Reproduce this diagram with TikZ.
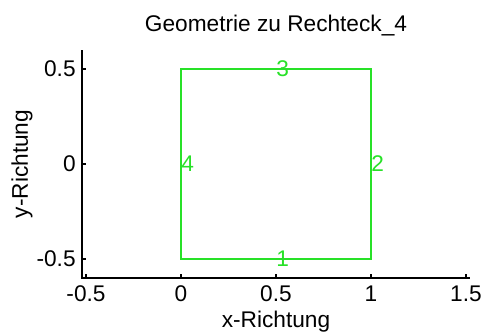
\documentclass[tikz,border=0pt]{standalone}
\usepackage{fontspec}
\setmainfont{Liberation Sans}
\usepackage{tikz}
\usetikzlibrary{positioning,calc}

\definecolor{kantgreen}{RGB}{40,225,40}

\begin{document}
\begin{tikzpicture}[x=142.5pt, y=142.5pt,
    plottext/.style={font=\fontsize{17}{20}\selectfont, inner sep=0pt},
    axisline/.style={draw=black, line width=1.3pt},
    edgelabel/.style={plottext, text=kantgreen, anchor=west}]
    \useasboundingbox (-0.9526,-0.8842) rectangle (1.5895,0.8632);

    % Title
    \node[plottext, anchor=base] (title) at (0.5,0.695) {Geometrie zu Rechteck\_4};

    % Axes
    \coordinate (origin) at (-0.52,-0.6);
    \draw[axisline] (-0.52,0.6) -- (origin) -- (1.52,-0.6);
    \foreach \x in {-0.5,0,0.5,1,1.5} {
        \draw[black, line width=0.9pt] (\x,-0.6) -- (\x,-0.58);
        \node[plottext, anchor=base] (xt\x) at (\x,-0.726) {\x};
    }
    \foreach \y in {-0.5,0,0.5} {
        \draw[black, line width=0.9pt] (-0.52,\y) -- (-0.50,\y);
        \node[plottext, anchor=east] (yt\y) at (-0.553,\y) {\y};
    }
    \node[plottext, anchor=base] (xlab) at (0.5,-0.862) {x-Richtung};
    \node[plottext, rotate=90] (ylab) at (-0.837,0) {y-Richtung};

    % Rectangle
    \coordinate (p1) at (0,-0.5);
    \coordinate (p3) at (1,0.5);
    \draw[kantgreen, line width=1.5pt] (p1) rectangle (p3);

    % Edge numbers
    \node[edgelabel] (seg1) at (0.5,-0.5) {1};
    \node[edgelabel] (seg2) at (1,0) {2};
    \node[edgelabel] (seg3) at (0.5,0.5) {3};
    \node[edgelabel] (seg4) at (0,0) {4};
\end{tikzpicture}
\end{document}
